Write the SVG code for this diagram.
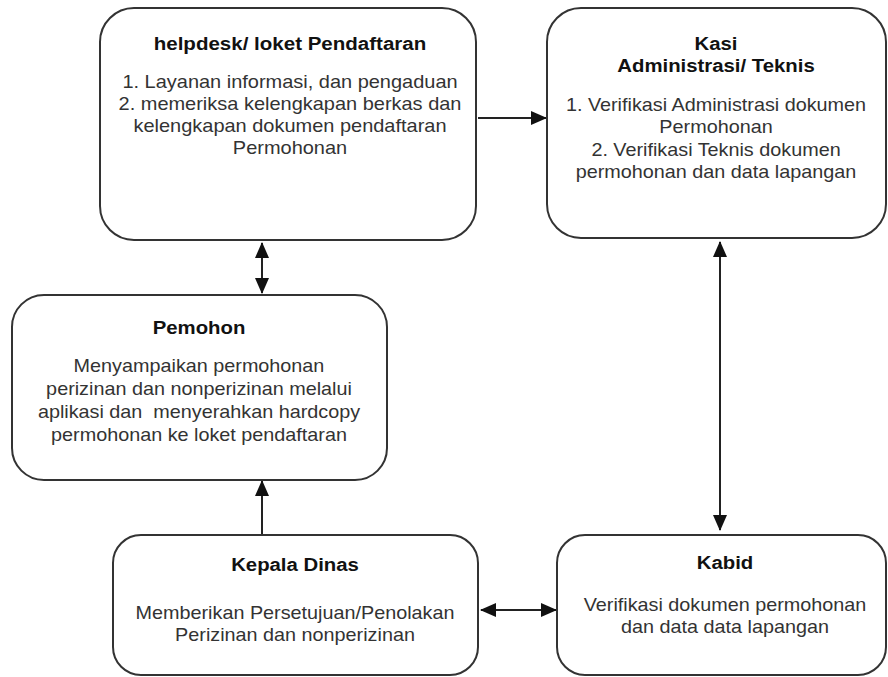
<svg xmlns="http://www.w3.org/2000/svg" width="888" height="677" viewBox="0 0 888 677">
<style>
.box{fill:#fff;stroke:#333;stroke-width:2}
.t{font-family:"Liberation Sans",Arial,sans-serif;font-weight:bold;font-size:18.5px;fill:#111;text-anchor:middle}
.b{font-family:"Liberation Sans",Arial,sans-serif;font-size:18px;fill:#333;text-anchor:middle}
.c{stroke:#222;stroke-width:2;fill:none}
</style>
<defs>
<marker id="ah" markerUnits="userSpaceOnUse" markerWidth="16" markerHeight="14" refX="15" refY="7" orient="auto-start-reverse">
<path d="M0,0 L16,7 L0,14 Z" fill="#111"/>
</marker>
</defs>
<rect width="888" height="677" fill="#fff"/>
<g id="connectors">
<line class="c" x1="478" y1="118" x2="546" y2="118" marker-end="url(#ah)"/>
<line class="c" x1="262" y1="243" x2="262" y2="293" marker-start="url(#ah)" marker-end="url(#ah)"/>
<line class="c" x1="720" y1="242" x2="720" y2="530" marker-start="url(#ah)" marker-end="url(#ah)"/>
<line class="c" x1="262" y1="534" x2="262" y2="481" marker-end="url(#ah)"/>
<line class="c" x1="481" y1="610" x2="556" y2="610" marker-start="url(#ah)" marker-end="url(#ah)"/>
</g>
<g id="helpdesk">
<rect class="box" x="100" y="8" width="376" height="232" rx="34"/>
<g transform="translate(290 0) scale(1.11 1)">
<text class="t" x="0" y="50">helpdesk/ loket Pendaftaran</text>
<text class="b" x="0" y="88">1. Layanan informasi, dan pengaduan</text>
<text class="b" x="0" y="110">2. memeriksa kelengkapan berkas dan</text>
<text class="b" x="0" y="132">kelengkapan dokumen pendaftaran</text>
<text class="b" x="0" y="154">Permohonan</text>
</g>
</g>
<g id="kasi">
<rect class="box" x="547" y="8" width="339" height="230" rx="34"/>
<g transform="translate(716 0) scale(1.1 1)">
<text class="t" x="0" y="50">Kasi</text>
<text class="t" x="0" y="72">Administrasi/ Teknis</text>
<text class="b" x="0" y="111">1. Verifikasi Administrasi dokumen</text>
<text class="b" x="0" y="133">Permohonan</text>
<text class="b" x="0" y="156">2. Verifikasi Teknis dokumen</text>
<text class="b" x="0" y="178">permohonan dan data lapangan</text>
</g>
</g>
<g id="pemohon">
<rect class="box" x="12" y="295" width="375" height="185" rx="32"/>
<g transform="translate(199 0) scale(1.1 1)">
<text class="t" x="0" y="334">Pemohon</text>
<text class="b" x="0" y="372">Menyampaikan permohonan</text>
<text class="b" x="0" y="395">perizinan dan nonperizinan melalui</text>
<text class="b" x="0" y="418" xml:space="preserve">aplikasi dan  menyerahkan hardcopy</text>
<text class="b" x="0" y="441">permohonan ke loket pendaftaran</text>
</g>
</g>
<g id="kepala">
<rect class="box" x="113" y="535" width="365" height="140" rx="28"/>
<g transform="translate(295 0) scale(1.1 1)">
<text class="t" x="0" y="571">Kepala Dinas</text>
<text class="b" x="0" y="619">Memberikan Persetujuan/Penolakan</text>
<text class="b" x="0" y="641">Perizinan dan nonperizinan</text>
</g>
</g>
<g id="kabid">
<rect class="box" x="557" y="535" width="329" height="140" rx="28"/>
<g transform="translate(725 0) scale(1.1 1)">
<text class="t" x="0" y="569">Kabid</text>
<text class="b" x="0" y="611">Verifikasi dokumen permohonan</text>
<text class="b" x="0" y="633">dan data data lapangan</text>
</g>
</g>
</svg>
